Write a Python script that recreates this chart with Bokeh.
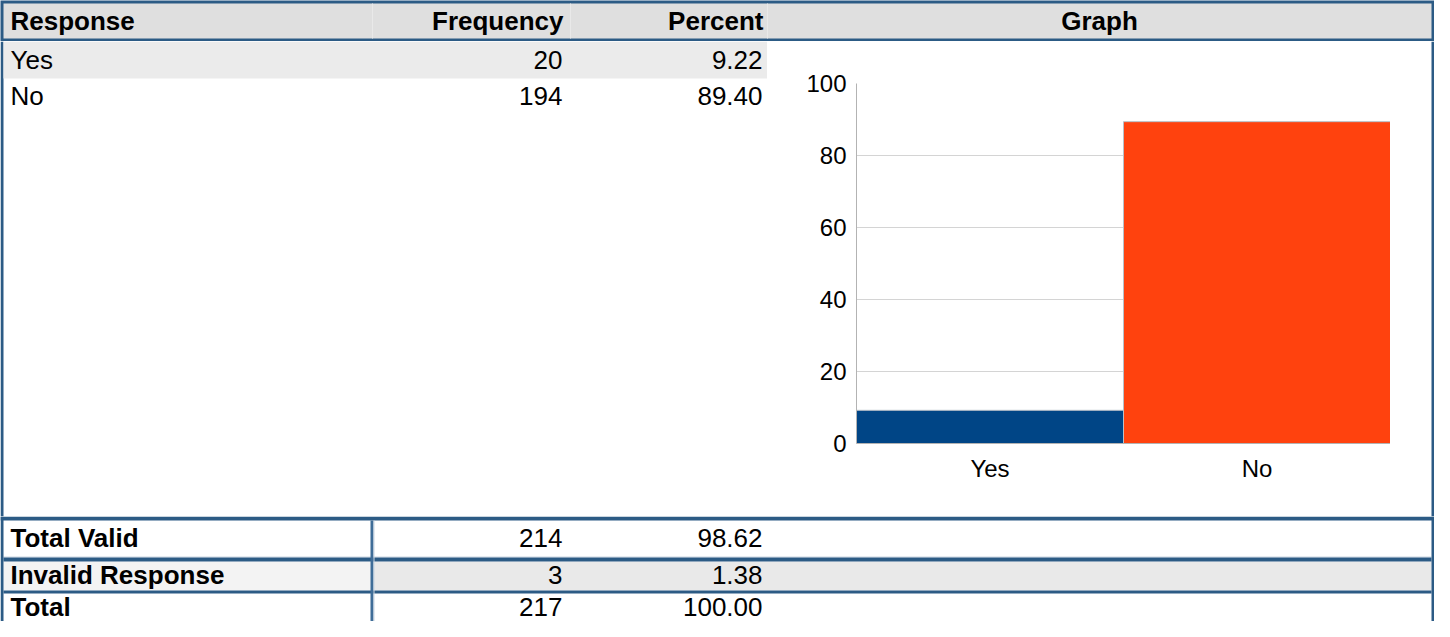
from bokeh.plotting import figure
from bokeh.layouts import column, row
from bokeh.models import Range1d, FactorRange, ColumnDataSource, FixedTicker
from bokeh.core.properties import value
from bokeh.embed import file_html
from bokeh.resources import INLINE

# ---------------- data ----------------
headers = ["Response", "Frequency", "Percent", "Graph"]
responses = ["Yes", "No"]
frequencies = [20, 194]
percents = [9.22, 89.40]
total_labels = ["Total Valid", "Invalid Response", "Total"]
total_freqs = [214, 3, 217]
total_percents = [98.62, 1.38, 100.00]
bar_colors = ["#004586", "#ff420e"]
y_ticks = [0, 20, 40, 60, 80, 100]

# ---------------- style / layout ----------------
BORDER = "#2c5b85"
FONT = "Liberation Sans"
TXT = "26px"
X0, X1 = 8, 1442
COL_FREQ_R = 570
COL_PCT_R = 770
SPLIT = 775
LEFT_TXT = 18


def no_align(p):
    try:
        p.frame_align = False
    except Exception:
        pass


def table_fig(x0, x1, y0, y1):
    p = figure(width=x1 - x0, height=y1 - y0,
               x_range=Range1d(x0, x1), y_range=Range1d(y1, y0),
               output_backend="svg", toolbar_location=None, min_border=0,
               x_axis_location=None, y_axis_location=None)
    p.grid.visible = False
    p.outline_line_color = None
    p.background_fill_color = "white"
    p.border_fill_color = "white"
    no_align(p)
    return p


def put_text(p, xs, ys, texts, align, bold=False, size=TXT):
    p.text(x=xs, y=ys, text=texts, text_font=value(FONT), text_font_size=size,
           text_align=align, text_baseline="middle", text_color="#000000",
           text_font_style="bold" if bold else "normal")


# ---------------- header ----------------
hdr = table_fig(X0, X1, 8, 49)
hdr.background_fill_color = BORDER
hdr.quad(left=11, right=1439, top=11, bottom=46, fill_color="#dfdfdf", line_color=None)
hdr.segment(x0=[380, 578, SPLIT], y0=[11] * 3, x1=[380, 578, SPLIT], y1=[46] * 3,
            line_color="#e9e9e9", line_width=1)
hy = 28.5
put_text(hdr, [LEFT_TXT], [hy], [headers[0]], "left", bold=True)
put_text(hdr, [COL_FREQ_R + 1], [hy], [headers[1]], "right", bold=True)
put_text(hdr, [COL_PCT_R + 1], [hy], [headers[2]], "right", bold=True)
put_text(hdr, [(SPLIT + 1439) / 2], [hy], [headers[3]], "center", bold=True)

# ---------------- middle left (rows) ----------------
MT, MB = 49, 524
ml = table_fig(X0, SPLIT, MT, MB)
ml.quad(left=8, right=11, top=MT, bottom=MB, fill_color=BORDER, line_color=None)
BAND_H = 37
ROW_PITCH = 36
ml.quad(left=11, right=SPLIT, top=MT, bottom=MT + BAND_H, fill_color="#ebebeb", line_color=None)
row_y = [MT + 18 + ROW_PITCH * i for i in range(len(responses))]
put_text(ml, [LEFT_TXT] * len(responses), row_y, responses, "left")
put_text(ml, [COL_FREQ_R] * len(responses), row_y, [str(v) for v in frequencies], "right")
put_text(ml, [COL_PCT_R] * len(responses), row_y, [f"{v:.2f}" for v in percents], "right")

# ---------------- chart ----------------
src = ColumnDataSource(dict(resp=responses, pct=percents, color=bar_colors))
ch = figure(width=1398 - SPLIT, height=MB - MT,
            x_range=FactorRange(factors=responses, range_padding=0),
            y_range=Range1d(0, 100),
            output_backend="svg", toolbar_location=None,
            min_border_left=89, min_border_right=0, min_border_top=42, min_border_bottom=73)
no_align(ch)
ch.vbar(x="resp", top="pct", width=1.0, source=src, fill_color="color",
        line_color="#b8c0c8", line_width=1)
ch.outline_line_color = None
ch.background_fill_color = "white"
ch.border_fill_color = "white"
ch.xgrid.visible = False
ch.ygrid.grid_line_color = "#d4d4d4"
ch.ygrid.grid_line_width = 1
ch.yaxis.ticker = FixedTicker(ticks=y_ticks)
for ax in (ch.xaxis[0], ch.yaxis[0]):
    ax.major_tick_line_color = None
    ax.minor_tick_line_color = None
    ax.axis_line_color = "#b3b3b3"
    ax.major_label_text_font = FONT
    ax.major_label_text_font_size = "24px"
    ax.major_label_text_color = "#000000"
ch.yaxis.major_label_standoff = 4
ch.xaxis.major_label_standoff = 5

# ---------------- right strip ----------------
rf = table_fig(1398, X1, MT, MB)
rf.quad(left=1439, right=1442, top=MT, bottom=MB, fill_color=BORDER, line_color=None)

# ---------------- totals ----------------
BT, BB = 524, 629
bt = table_fig(X0, X1, BT, BB)
row_tops = [528, 569, 601]
row_bots = [565, 598, 629]
bt.quad(left=11, right=378, top=569, bottom=598, fill_color="#f3f3f3", line_color=None)
bt.quad(left=381, right=1439, top=569, bottom=598, fill_color="#e9e9e9", line_color=None)
bt.quad(left=[8, 11, 11, 11], right=[X1, 1439, 1439, 1439],
        top=[524, 564, 565, 598], bottom=[528, 565, 569, 601],
        fill_color=[BORDER, "#c9d6e2", BORDER, BORDER], line_color=None)
bt.quad(left=[8, 1439], right=[11, 1442], top=[BT, BT], bottom=[BB, BB],
        fill_color=BORDER, line_color=None)
bt.quad(left=378, right=381, top=528, bottom=BB, fill_color="#3f6d98", line_color=None)
bt.quad(left=381, right=382, top=528, bottom=BB, fill_color="#c9d6e2", line_color=None)
tot_y = [(a + b) / 2 - 1 for a, b in zip(row_tops, row_bots)]
n = len(total_labels)
put_text(bt, [LEFT_TXT] * n, tot_y, total_labels, "left", bold=True)
put_text(bt, [COL_FREQ_R] * n, tot_y, [str(v) for v in total_freqs], "right")
put_text(bt, [COL_PCT_R] * n, tot_y, [f"{v:.2f}" for v in total_percents], "right")

p = column(hdr, row(ml, ch, rf, spacing=0), bt, spacing=0)

open("out.html", "w").write(file_html(p, INLINE))
